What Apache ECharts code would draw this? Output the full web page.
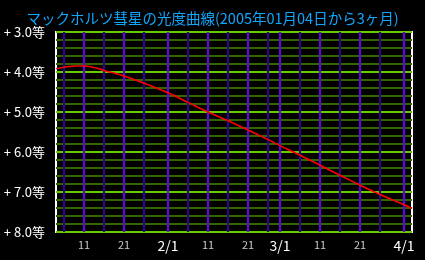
<!DOCTYPE html>
<html>
<head>
<meta charset="utf-8">
<script src="https://cdn.jsdelivr.net/npm/echarts@6/dist/echarts.min.js"></script>
<style>
html,body{margin:0;padding:0;background:#000;}
#c{width:425px;height:260px;}
</style>
</head>
<body>
<div id="c"></div>
<script>
// Data
const startDate = '2005-01-04';
const endDate = '2005-04-03';
const dates = ['2005-01-04','2005-01-06','2005-01-09','2005-01-11','2005-01-14','2005-01-16','2005-01-21','2005-01-26','2005-02-01','2005-02-06','2005-02-11','2005-02-16','2005-02-21','2005-02-26','2005-03-01','2005-03-06','2005-03-11','2005-03-16','2005-03-21','2005-03-26','2005-04-01','2005-04-03'];
const magnitudes = [3.92,3.88,3.85,3.85,3.90,3.96,4.10,4.28,4.52,4.76,5.00,5.22,5.45,5.69,5.84,6.08,6.33,6.58,6.83,7.06,7.32,7.41];
const majorDayLines = ['2005-01-11','2005-01-21','2005-02-01','2005-02-11','2005-02-21','2005-03-01','2005-03-11','2005-03-21','2005-04-01'];
const minorDayLines = ['2005-01-06','2005-01-16','2005-01-26','2005-02-06','2005-02-16','2005-02-26','2005-03-06','2005-03-16','2005-03-26'];
const xTickLabels = ['11','21','2/1','11','21','3/1','11','21','4/1'];
const titleText = 'マックホルツ彗星の光度曲線(2005年01月04日から3ヶ月)';

const DAY = 86400000;
const t0 = Date.parse(startDate + 'T00:00:00Z');
const dayOf = d => Math.round((Date.parse(d + 'T00:00:00Z') - t0) / DAY);
const xMax = dayOf(endDate);
const seriesData = dates.map((d, i) => [dayOf(d), magnitudes[i]]);
const majorX = majorDayLines.map(dayOf);
const minorX = minorDayLines.map(dayOf);
const labelMap = {};
majorX.forEach((x, i) => labelMap[x] = xTickLabels[i]);

const chart = echarts.init(document.getElementById('c'));
chart.setOption({
  backgroundColor: '#000',
  animation: false,
  title: {
    text: titleText,
    left: 'center',
    top: 6,
    textStyle: { color: '#10a8ff', fontSize: 14.5, fontWeight: 'normal', fontFamily: 'Noto Sans CJK JP' }
  },
  grid: {
    left: 56, right: 13, top: 32, bottom: 28,
    show: true, borderColor: '#fff', borderWidth: 2, backgroundColor: '#000'
  },
  xAxis: {
    type: 'value', min: 0, max: xMax,
    axisLine: { show: false },
    axisTick: { show: false },
    splitLine: { show: false },
    axisLabel: {
      customValues: majorX,
      margin: 7,
      formatter: v => {
        const s = labelMap[v] || '';
        return s.indexOf('/') >= 0 ? '{m|' + s + '}' : '{d|' + s + '}';
      },
      rich: {
        m: { color: '#fff', fontSize: 14, fontFamily: 'Noto Sans CJK JP' },
        d: { color: '#c8c8c8', fontSize: 11, fontFamily: 'Noto Sans CJK JP' }
      }
    }
  },
  yAxis: {
    type: 'value', inverse: true, min: 3, max: 8, interval: 1,
    axisLine: { show: false },
    axisTick: { show: false },
    axisLabel: {
      color: '#fff', fontSize: 13, margin: 11, fontFamily: 'Noto Sans CJK JP',
      formatter: v => '+ ' + v.toFixed(1) + '等'
    },
    splitLine: { show: true, lineStyle: { color: '#66cc00', width: 2 } },
    minorTick: { show: false, splitNumber: 5 },
    minorSplitLine: { show: true, lineStyle: { color: '#336600', width: 2 } }
  },
  series: [
    {
      type: 'line', data: [], silent: true, z: 1,
      markLine: {
        silent: true, symbol: 'none', label: { show: false },
        lineStyle: { color: '#330099', width: 2, type: 'solid' },
        data: minorX.map(x => ({ xAxis: x }))
      }
    },
    {
      type: 'line', data: [], silent: true, z: 1,
      markLine: {
        silent: true, symbol: 'none', label: { show: false },
        lineStyle: { color: '#6600ee', width: 2, type: 'solid' },
        data: majorX.map(x => ({ xAxis: x }))
      }
    },
    {
      type: 'line', data: seriesData, smooth: 0.4, showSymbol: false, z: 5,
      lineStyle: { color: '#ff0000', width: 1.6 }
    }
  ]
});
</script>
</body>
</html>
